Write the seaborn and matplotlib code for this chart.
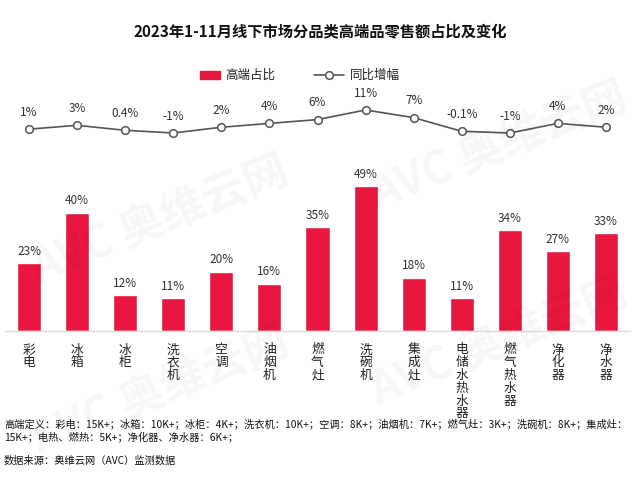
import pandas as pd
import matplotlib
matplotlib.use("Agg")
import matplotlib.pyplot as plt
import seaborn as sns
from matplotlib.patches import Rectangle
from matplotlib.lines import Line2D

categories = ["彩电", "冰箱", "冰柜", "洗衣机", "空调", "油烟机", "燃气灶", "洗碗机",
              "集成灶", "电储水热水器", "燃气热水器", "净化器", "净水器"]
share = [23, 40, 12, 11, 20, 16, 35, 49, 18, 11, 34, 27, 33]
growth = [1, 3, 0.4, -1, 2, 4, 6, 11, 7, -0.1, -1, 4, 2]
growth_labels = ["1%", "3%", "0.4%", "-1%", "2%", "4%", "6%", "11%", "7%", "-0.1%", "-1%", "4%", "2%"]

df = pd.DataFrame({"cat": categories, "share": share, "growth": growth})
df["pos"] = range(len(df))

sns.set_theme(style="white")
plt.rcParams['font.family'] = ['Noto Sans CJK SC', 'DejaVu Sans']

RED = "#E8173F"
fig = plt.figure(figsize=(6.4, 4.9), dpi=100)

# watermark
for wx, wy in [(0.25, 0.55), (0.78, 0.70), (0.25, 0.20), (0.78, 0.30)]:
    fig.text(wx, wy, "AVC 奥维云网", fontsize=32, fontweight="bold", color="#000000",
             alpha=0.035, rotation=22, ha="center", va="center")

# bars
ax = fig.add_axes([5 / 640, (490 - 331) / 490, 625 / 640, 154 / 490])
sns.barplot(data=df, x="pos", y="share", color=RED, width=0.5, saturation=1, ax=ax)
for i, v in enumerate(share):
    ax.text(i, v + 1.8, f"{v}%", ha="center", va="bottom", fontsize=8.5, color="#333333")
ax.set_ylim(0, 52)
ax.set_xlim(-0.5, len(categories) - 0.5)
ax.set_xticks(range(len(categories)))
ax.set_xticklabels(["\n".join(c) for c in categories], fontsize=9.2, va="top",
                   linespacing=0.98, color="#222222")
ax.tick_params(axis="x", length=0, pad=9)
ax.set_yticks([])
ax.set_xlabel("")
ax.set_ylabel("")
for s in ["top", "left", "right"]:
    ax.spines[s].set_visible(False)
ax.spines["bottom"].set_color("#DDDDDD")
ax.spines["bottom"].set_linewidth(1)
ax.patch.set_alpha(0)

# growth line
ax2 = fig.add_axes([5 / 640, (490 - 140) / 490, 625 / 640, 40 / 490])
sns.lineplot(data=df, x="pos", y="growth", color="#555555", linewidth=1.2, marker="o",
             markersize=5.5, markerfacecolor="white", markeredgecolor="#555555",
             markeredgewidth=1.1, ax=ax2)
for i, (v, lab) in enumerate(zip(growth, growth_labels)):
    ax2.text(i, v + 5.3, lab, ha="center", va="bottom", fontsize=8.5, color="#333333")
ax2.set_xlim(-0.5, len(categories) - 0.5)
ax2.set_ylim(-4.65, 16.2)
ax2.axis("off")
ax2.patch.set_alpha(0)

# title
fig.text(0.5, 1 - 31 / 490, "2023年1-11月线下市场分品类高端品零售额占比及变化",
         ha="center", va="center", fontsize=11, fontweight="bold", color="#111111")

# legend
fig.patches.append(Rectangle((200 / 640, 1 - 79 / 490), 20 / 640, 8 / 490,
                             transform=fig.transFigure, color=RED))
fig.text(225 / 640, 1 - 75 / 490, "高端占比", va="center", fontsize=9, color="#222222")
fig.lines.append(Line2D([314 / 640, 344 / 640], [1 - 75 / 490, 1 - 75 / 490],
                        transform=fig.transFigure, color="#555555", linewidth=1.2))
fig.lines.append(Line2D([329 / 640], [1 - 75 / 490], transform=fig.transFigure,
                        marker="o", markersize=5.5, markerfacecolor="white",
                        markeredgecolor="#555555", markeredgewidth=1.1))
fig.text(350 / 640, 1 - 75 / 490, "同比增幅", va="center", fontsize=9, color="#222222")

# footnotes
fig.text(4 / 640, 1 - 424 / 490,
         "高端定义：彩电：15K+；冰箱：10K+；冰柜：4K+；洗衣机：10K+；空调：8K+；油烟机：7K+；燃气灶：3K+；洗碗机：8K+；集成灶：",
         va="center", fontsize=7.35, color="#111111")
fig.text(4 / 640, 1 - 437 / 490, "15K+；电热、燃热：5K+；净化器、净水器：6K+；",
         va="center", fontsize=7.35, color="#111111")
fig.text(4 / 640, 1 - 461 / 490, "数据来源：奥维云网（AVC）监测数据",
         va="center", fontsize=7.35, color="#111111")

fig.savefig("out.png", dpi=100, facecolor="white")
